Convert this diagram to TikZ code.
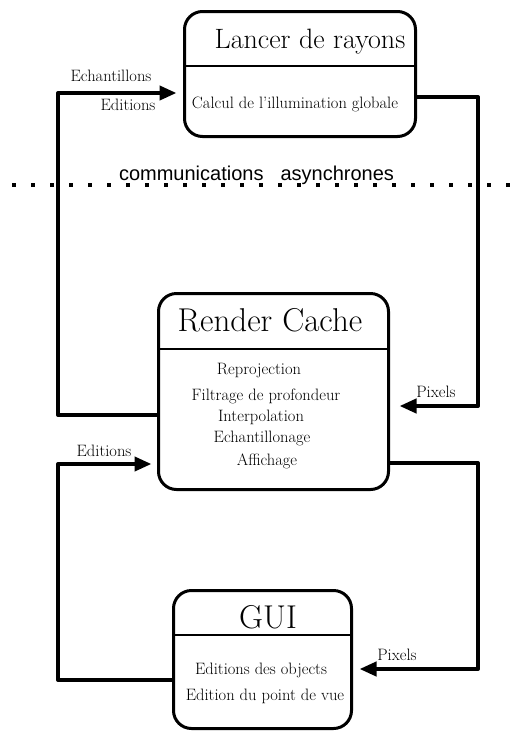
\documentclass[tikz,border=0pt]{standalone}
\usepackage{fontspec}
\newfontfamily\asyncfont{Liberation Sans}
\usetikzlibrary{arrows.meta, positioning, calc}

\begin{document}
\begin{tikzpicture}[x=1pt,y=-1pt,
			block/.style={draw,line width=3pt,rounded corners=18pt},
			title text/.style={anchor=base,inner sep=0pt,font=\fontsize{33}{33}\selectfont},
			item text/.style={anchor=base,inner sep=0pt,font=\fontsize{16.5}{16.5}\selectfont},
			link/.style={line width=4pt,line join=round,-{Triangle[length=17pt,width=14pt]}},
			async line/.style={line width=3.5pt,dash pattern=on 3.5pt off 15.5pt}]
			
			\useasboundingbox (0,0) rectangle (519,732);
			
			\coordinate (lbus) at (58,0);
			\coordinate (rbus) at (478,0);
			
			% ray tracer
			\node[block,minimum width=231,minimum height=125] (lr) at (300,74) {};
			\draw[line width=2pt] (lr.west |- 0,66) -- (lr.east |- 0,66);
			\node[title text,font=\fontsize{28}{28}\selectfont] (lrtitle) at (310,48) {Lancer de rayons};
			\node[item text] (lrcalc) at (295,108) {Calcul de l'illumination globale};
			
			% asynchronous boundary
			\draw[async line] (12,185) -- (519,185);
			\node[anchor=base,inner sep=0pt,font=\asyncfont\fontsize{20}{20}\selectfont] (async) at (256.5,180) {communications\hspace{17pt}asynchrones};
			
			% render cache
			\node[block,minimum width=230,minimum height=196] (rc) at (273.5,391.5) {};
			\draw[line width=2pt] (rc.west |- 0,349) -- (rc.east |- 0,349);
			\node[title text] (rctitle) at (270,331) {Render Cache};
			\node[item text] (rc1) at (259,374) {Reprojection};
			\node[item text] (rc2) at (266,400) {Filtrage de profondeur};
			\node[item text] (rc3) at (261,421) {Interpolation};
			\node[item text] (rc4) at (262,442) {Echantillonage};
			\node[item text] (rc5) at (267,465) {Affichage};
			
			% gui
			\node[block,minimum width=178,minimum height=138] (gui) at (262.5,659.5) {};
			\draw[line width=2pt] (gui.west |- 0,635) -- (gui.east |- 0,635);
			\node[title text] (guititle) at (268,628) {GUI};
			\node[item text] (gui1) at (261,674) {Editions des objects};
			\node[item text] (gui2) at (265,700) {Edition du point de vue};
			
			% connections
			\draw[link,shorten >=6.5pt] (rc.west |- 0,415) -| (lbus |- 0,93) -- (lr.west |- 0,93);
			\draw[link,shorten >=9.5pt] (lr.east |- 0,97) -| (rbus |- 0,406) -- (rc.east |- 0,406);
			\draw[link,shorten >=5.5pt] (gui.west |- 0,680) -| (lbus |- 0,464) -- (rc.west |- 0,464);
			\draw[link,shorten >=6.5pt] (rc.east |- 0,463) -| (rbus |- 0,669) -- (gui.east |- 0,669);
			
			\node[item text] (lbl1) at (111,81) {Echantillons};
			\node[item text] (lbl2) at (128,110) {Editions};
			\node[item text] (lbl3) at (436,397) {Pixels};
			\node[item text] (lbl4) at (104,456) {Editions};
			\node[item text] (lbl5) at (397,660) {Pixels};
		\end{tikzpicture}
\end{document}
